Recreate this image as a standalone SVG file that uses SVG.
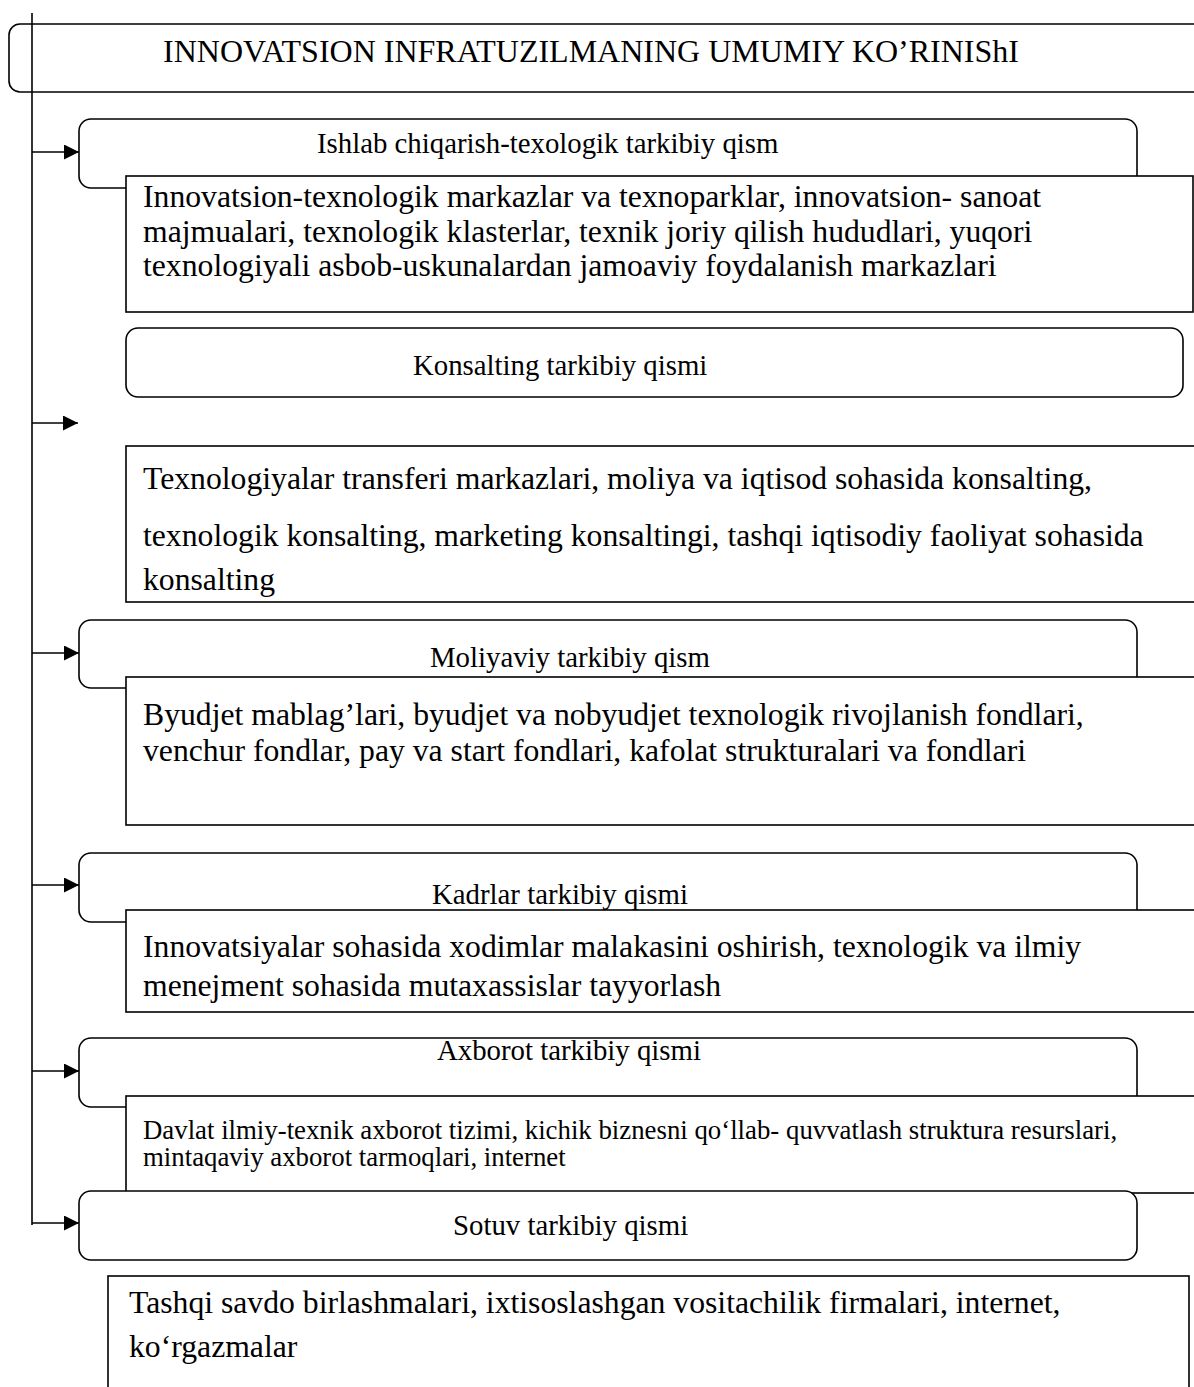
<svg xmlns="http://www.w3.org/2000/svg" width="1194" height="1387" viewBox="0 0 1194 1387">
<defs>
<style>
.box{fill:#fff;stroke:#000;stroke-width:1.6}
.t{font-family:"Liberation Serif","Times New Roman",serif;fill:#000}
.title{font-size:32px}
.h{font-size:28.8px}
.b{font-size:31.7px}
.s{font-size:26.8px}
.conn{stroke:#000;stroke-width:1.6;fill:none}
</style>
<marker id="arr" markerUnits="userSpaceOnUse" markerWidth="16" markerHeight="16" refX="15" refY="7.5" orient="auto">
<path d="M0,0 L15,7.5 L0,15 z" fill="#000"/>
</marker>
</defs>
<rect width="1194" height="1387" fill="#fff"/>
<g id="title">
<rect class="box" x="9" y="24" width="1200" height="68" rx="11"/>
<text class="t title" x="163" y="62">INNOVATSION INFRATUZILMANING UMUMIY KO’RINIShI</text>
</g>
<g id="ishlab">
<rect class="box" x="79" y="119" width="1058" height="69" rx="12"/>
<text class="t h" x="317" y="153">Ishlab chiqarish-texologik tarkibiy qism</text>
</g>
<g id="ishlab-desc">
<rect class="box" x="126" y="176" width="1067" height="136"/>
<text class="t b" x="143" y="207">Innovatsion-texnologik markazlar va texnoparklar, innovatsion- sanoat</text>
<text class="t b" x="143" y="242">majmualari, texnologik klasterlar, texnik joriy qilish hududlari, yuqori</text>
<text class="t b" x="143" y="276">texnologiyali asbob-uskunalardan jamoaviy foydalanish markazlari</text>
</g>
<g id="konsalting">
<rect class="box" x="126" y="328" width="1057" height="69" rx="12"/>
<text class="t h" x="413" y="375">Konsalting tarkibiy qismi</text>
</g>
<g id="konsalting-desc">
<rect class="box" x="126" y="446" width="1080" height="156"/>
<text class="t b" x="143" y="489">Texnologiyalar transferi markazlari, moliya va iqtisod sohasida konsalting,</text>
<text class="t b" x="143" y="546">texnologik konsalting, marketing konsaltingi, tashqi iqtisodiy faoliyat sohasida</text>
<text class="t b" x="143" y="590">konsalting</text>
</g>
<g id="moliyaviy">
<rect class="box" x="79" y="620" width="1058" height="68" rx="12"/>
<text class="t h" x="430" y="667">Moliyaviy tarkibiy qism</text>
</g>
<g id="moliyaviy-desc">
<rect class="box" x="126" y="677" width="1080" height="148"/>
<text class="t b" x="143" y="725">Byudjet mablag’lari, byudjet va nobyudjet texnologik rivojlanish fondlari,</text>
<text class="t b" x="143" y="761">venchur fondlar, pay va start fondlari, kafolat strukturalari va fondlari</text>
</g>
<g id="kadrlar">
<rect class="box" x="79" y="853" width="1058" height="69" rx="12"/>
<text class="t h" x="432" y="904">Kadrlar tarkibiy qismi</text>
</g>
<g id="kadrlar-desc">
<rect class="box" x="126" y="910" width="1080" height="102"/>
<text class="t b" x="143" y="957">Innovatsiyalar sohasida xodimlar malakasini oshirish, texnologik va ilmiy</text>
<text class="t b" x="143" y="996">menejment sohasida mutaxassislar tayyorlash</text>
</g>
<g id="axborot">
<rect class="box" x="79" y="1038" width="1058" height="69" rx="12"/>
<text class="t h" x="437" y="1060">Axborot tarkibiy qismi</text>
</g>
<g id="axborot-desc">
<rect class="box" x="126" y="1096" width="1080" height="97"/>
<text class="t s" x="143" y="1139">Davlat ilmiy-texnik axborot tizimi, kichik biznesni qo‘llab- quvvatlash struktura resurslari,</text>
<text class="t s" x="143" y="1166">mintaqaviy axborot tarmoqlari, internet</text>
</g>
<g id="sotuv">
<rect class="box" x="79" y="1191" width="1058" height="69" rx="12"/>
<text class="t h" x="453" y="1235">Sotuv tarkibiy qismi</text>
</g>
<g id="sotuv-desc">
<rect class="box" x="108" y="1276" width="1081" height="130"/>
<text class="t b" x="129" y="1313">Tashqi savdo birlashmalari, ixtisoslashgan vositachilik firmalari, internet,</text>
<text class="t b" x="129" y="1357">ko‘rgazmalar</text>
</g>
<g id="connectors">
<line class="conn" x1="32" y1="13" x2="32" y2="1225"/>
<line class="conn" x1="32" y1="152" x2="79" y2="152" marker-end="url(#arr)"/>
<line class="conn" x1="32" y1="423" x2="78" y2="423" marker-end="url(#arr)"/>
<line class="conn" x1="32" y1="653" x2="79" y2="653" marker-end="url(#arr)"/>
<line class="conn" x1="32" y1="885" x2="79" y2="885" marker-end="url(#arr)"/>
<line class="conn" x1="32" y1="1071" x2="79" y2="1071" marker-end="url(#arr)"/>
<line class="conn" x1="32" y1="1223" x2="79" y2="1223" marker-end="url(#arr)"/>
</g>
</svg>
